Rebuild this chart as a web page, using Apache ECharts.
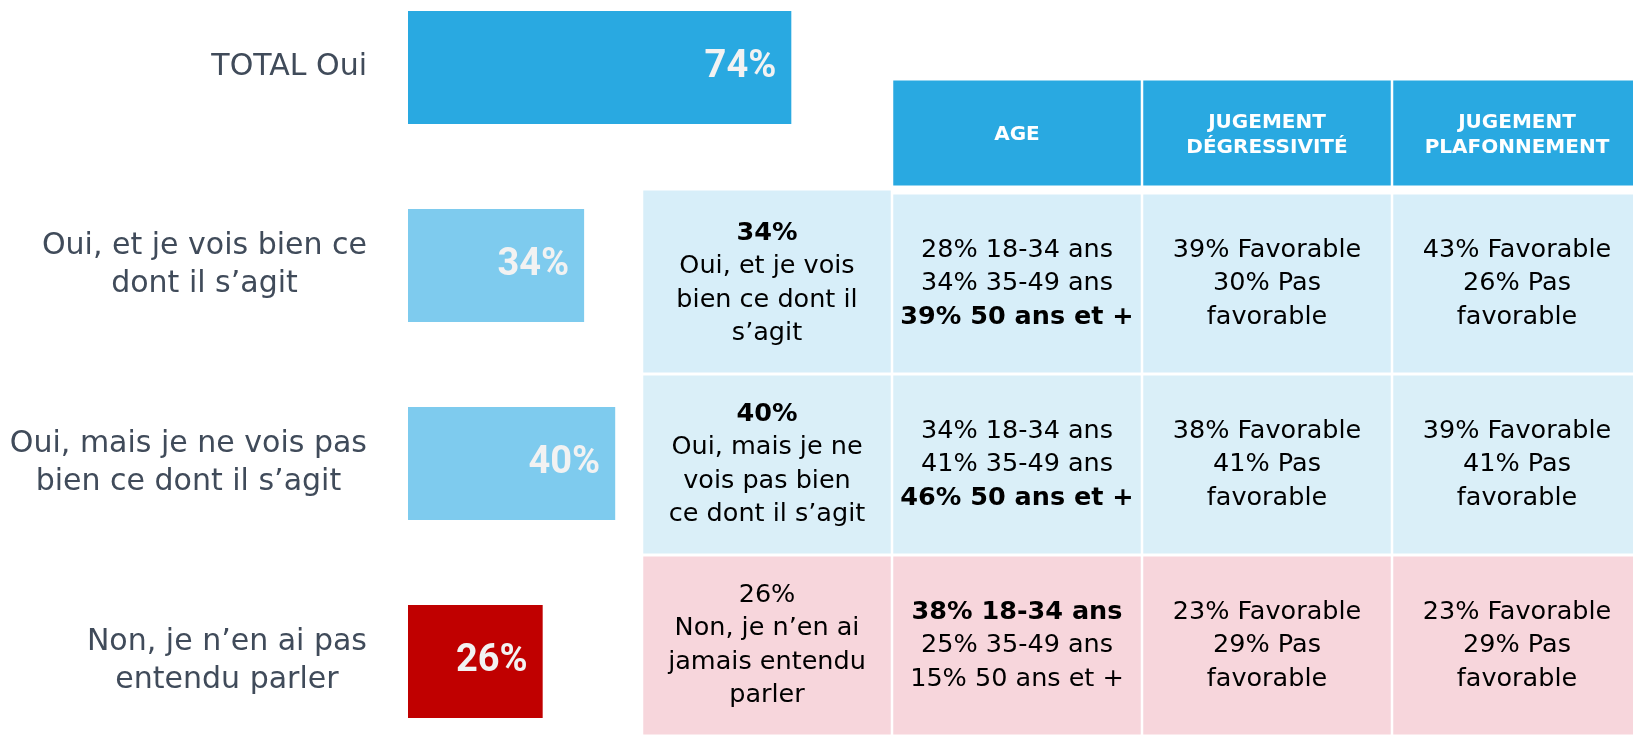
<!DOCTYPE html>
<html>
<head>
<meta charset="utf-8">
<script src="https://cdn.jsdelivr.net/npm/echarts@6/dist/echarts.min.js"></script>
<style>
  html, body { margin: 0; padding: 0; background: #fff; }
  #main { width: 1633px; height: 736px; }
</style>
</head>
<body>
<div id="main"></div>
<script>
// barres de gauche
var categories = ['TOTAL Oui', 'Oui, et je vois bien ce\ndont il s’agit', 'Oui, mais je ne vois pas\nbien ce dont il s’agit', 'Non, je n’en ai pas\nentendu parler'];
var values = [74, 34, 40, 26];

// tableau de droite
var tableColumns = ['', 'AGE', 'JUGEMENT\nDÉGRESSIVITÉ', 'JUGEMENT\nPLAFONNEMENT'];
var tableRows = ['Oui, et je vois bien', 'Oui, mais pas bien', 'Non'];
var answerCol = [
    ['34%', 'Oui, et je vois', 'bien ce dont il', 's’agit'],
    ['40%', 'Oui, mais je ne', 'vois pas bien', 'ce dont il s’agit'],
    ['26%', 'Non, je n’en ai', 'jamais entendu', 'parler']
];
var ageCol = [
    ['28% 18-34 ans', '34% 35-49 ans', '39% 50 ans et +'],
    ['34% 18-34 ans', '41% 35-49 ans', '46% 50 ans et +'],
    ['38% 18-34 ans', '25% 35-49 ans', '15% 50 ans et +']
];
var degressiviteCol = [
    ['39% Favorable', '30% Pas', 'favorable'],
    ['38% Favorable', '41% Pas', 'favorable'],
    ['23% Favorable', '29% Pas', 'favorable']
];
var plafonnementCol = [
    ['43% Favorable', '26% Pas', 'favorable'],
    ['39% Favorable', '41% Pas', 'favorable'],
    ['23% Favorable', '29% Pas', 'favorable']
];
// ligne en gras dans chaque cellule (-1 = aucune)
var boldLine = [
    [0, 2, -1, -1],
    [0, 2, -1, -1],
    [-1, 0, -1, -1]
];

var tableCols = [answerCol, ageCol, degressiviteCol, plafonnementCol];
var barColors = ['#29a9e1', '#7ecbee', '#7ecbee', '#c00000'];
var rowFill = ['#d7eef9', '#daeff8', '#f7d6dc'];

var cellRich = {
    n: { fontFamily: 'DejaVu Sans', fontSize: 25.5, lineHeight: 33.5, color: '#111', align: 'center' },
    b: { fontFamily: 'DejaVu Sans', fontSize: 25.5, lineHeight: 33.5, color: '#111', fontWeight: 'bold', align: 'center' }
};

var headerData = [];
for (var c = 1; c < tableColumns.length; c++) headerData.push([c, 0]);
var bodyData = [];
for (var r = 0; r < tableRows.length; r++) {
    for (var k = 0; k < tableColumns.length; k++) bodyData.push([k, r]);
}

function cellRect(api) {
    var p = api.coord([api.value(0), api.value(1)]);
    var s = api.size([1, 1]);
    return { cx: p[0], cy: p[1], x: p[0] - s[0] / 2 + 1.25, y: p[1] - s[1] / 2 + 1.5, width: s[0] - 2.5, height: s[1] - 3 };
}

function renderHeader(params, api) {
    var b = cellRect(api);
    return {
        type: 'group',
        children: [
            { type: 'rect', shape: { x: b.x, y: b.y, width: b.width, height: b.height }, style: { fill: '#29a9e1' } },
            { type: 'text', style: {
                x: b.cx, y: b.cy + 2, text: tableColumns[api.value(0)], align: 'center', verticalAlign: 'middle',
                fill: '#fff', fontFamily: 'DejaVu Sans', fontWeight: 'bold', fontSize: 20, lineHeight: 25
            } }
        ]
    };
}

function renderBody(params, api) {
    var b = cellRect(api);
    var col = api.value(0), row = api.value(1);
    var lines = tableCols[col][row];
    var text = lines.map(function (l, i) {
        return '{' + (boldLine[row][col] === i ? 'b' : 'n') + '|' + l + '}';
    }).join('\n');
    // la premiere colonne du premier rang remonte un peu
    var top = (col === 0 && row === 0) ? b.y - 4 : b.y;
    return {
        type: 'group',
        children: [
            { type: 'rect', shape: { x: b.x, y: top, width: b.width, height: b.height + b.y - top }, style: { fill: rowFill[row] } },
            { type: 'text', style: { x: b.cx, y: b.cy, text: text, align: 'center', verticalAlign: 'middle', rich: cellRich } }
        ]
    };
}

var myChart = echarts.init(document.getElementById('main'));
var option = {
    animation: false,
    backgroundColor: '#fff',
    grid: [
        { left: 408, top: -31.5, width: 518, height: 792, outerBoundsMode: 'none', containLabel: false },
        { left: 642, top: 79, width: 1000, height: 108, outerBoundsMode: 'none', containLabel: false },
        { left: 642, top: 193, width: 1000, height: 543, outerBoundsMode: 'none', containLabel: false }
    ],
    xAxis: [
        { gridIndex: 0, type: 'value', min: 0, max: 100, show: false },
        { gridIndex: 1, type: 'category', data: tableColumns, show: false },
        { gridIndex: 2, type: 'category', data: tableColumns, show: false }
    ],
    yAxis: [
        {
            gridIndex: 0, type: 'category', inverse: true, data: categories,
            axisLine: { show: false }, axisTick: { show: false },
            axisLabel: {
                margin: 41,
                formatter: function (v) {
                    return v.split('\n').map(function (l) { return '{c|' + l + '}'; }).join('\n');
                },
                rich: { c: { fontFamily: 'DejaVu Sans', fontSize: 30, lineHeight: 38, color: '#404b5a', align: 'center' } }
            }
        },
        { gridIndex: 1, type: 'category', data: ['header'], show: false },
        { gridIndex: 2, type: 'category', inverse: true, data: tableRows, show: false }
    ],
    series: [
        {
            type: 'bar',
            xAxisIndex: 0, yAxisIndex: 0,
            barWidth: 113,
            data: values.map(function (v, i) { return { value: v, itemStyle: { color: barColors[i] } }; }),
            label: {
                show: true, position: 'insideRight', distance: 15,
                formatter: '{c}%',
                color: '#f2f2f2', fontFamily: 'Roboto', fontWeight: 'bold', fontSize: 38
            }
        },
        { type: 'custom', xAxisIndex: 1, yAxisIndex: 1, data: headerData, renderItem: renderHeader, silent: true },
        { type: 'custom', xAxisIndex: 2, yAxisIndex: 2, data: bodyData, renderItem: renderBody, silent: true }
    ]
};
myChart.setOption(option);
</script>
</body>
</html>
